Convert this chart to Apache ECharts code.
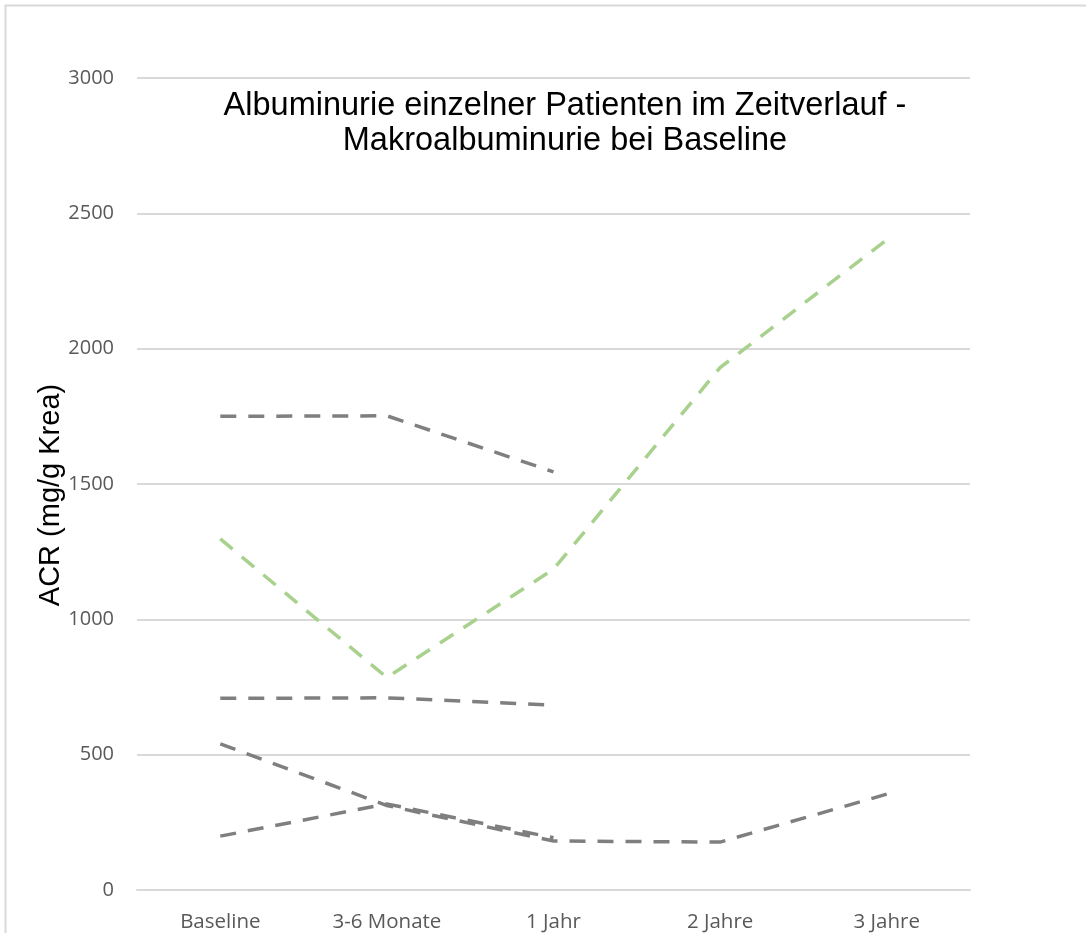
<!DOCTYPE html>
<html>
<head>
<meta charset="utf-8">
<script src="https://cdn.jsdelivr.net/npm/echarts@6/dist/echarts.min.js"></script>
<style>
  html, body { margin: 0; padding: 0; background: #fff; }
  #chart { width: 1086px; height: 933px; }
</style>
</head>
<body>
<div id="chart"></div>
<script>
// Time points and per-patient ACR values (mg/g Krea)
const categories = ['Baseline', '3-6 Monate', '1 Jahr', '2 Jahre', '3 Jahre'];
const patientA = [1750, 1752, 1545, null, null];
const patientB = [708, 710, 683, null, null];
const patientC = [540, 312, 181, 177, 354];
const patientD = [199, 318, 193, null, null];
const patientE = [1297, 785, 1185, 1930, 2402];
const yTicks = { min: 0, max: 3000, interval: 500 };

const GRAY = '#7f7f7f';
const GREEN = '#a9d18e';

function dashed(name, data, color, width) {
  return {
    name: name,
    type: 'line',
    data: data,
    symbol: 'none',
    connectNulls: false,
    silent: true,
    lineStyle: { color: color, width: width, type: [16, 12], cap: 'butt', join: 'miter' }
  };
}

const chart = echarts.init(document.getElementById('chart'), null, { renderer: 'canvas' });
chart.setOption({
  animation: false,
  backgroundColor: '#ffffff',
  graphic: [{
    type: 'rect',
    shape: { x: 5.5, y: 5.5, width: 1200, height: 1000 },
    style: { fill: 'none', stroke: '#d9d9d9', lineWidth: 2 },
    silent: true,
    z: -1
  }],
  title: {
    text: 'Albuminurie einzelner Patienten im Zeitverlauf -\nMakroalbuminurie bei Baseline',
    left: 560,
    top: 84,
    textAlign: 'center',
    textStyle: {
      fontFamily: 'Liberation Sans',
      fontSize: 32.5,
      fontWeight: 'normal',
      color: '#000000',
      lineHeight: 35,
      align: 'center'
    }
  },
  grid: { left: 137, right: 116, top: 78, bottom: 42, containLabel: false },
  xAxis: {
    type: 'category',
    data: categories,
    boundaryGap: true,
    axisLine: { show: true, lineStyle: { color: '#d9d9d9', width: 2 } },
    axisTick: { show: false },
    axisLabel: {
      fontFamily: 'Open Sans',
      fontSize: 20.5,
      color: '#595959',
      margin: 22
    }
  },
  yAxis: {
    type: 'value',
    min: yTicks.min,
    max: yTicks.max,
    interval: yTicks.interval,
    name: 'ACR (mg/g Krea)',
    nameLocation: 'middle',
    nameGap: 72,
    nameMoveOverlap: false,
    nameRotate: 90,
    nameTextStyle: {
      fontFamily: 'Liberation Sans',
      fontSize: 29,
      color: '#000000',
      padding: [0, 22, 0, 0]
    },
    axisLine: { show: false },
    axisTick: { show: false },
    splitLine: { lineStyle: { color: '#d9d9d9', width: 2 } },
    axisLabel: {
      fontFamily: 'Open Sans',
      fontSize: 20,
      color: '#595959',
      margin: 23,
      formatter: function (v) { return String(v); }
    }
  },
  series: [
    dashed('Patient A', patientA, GRAY, 3.5),
    dashed('Patient B', patientB, GRAY, 3.5),
    dashed('Patient C', patientC, GRAY, 3.5),
    dashed('Patient D', patientD, GRAY, 3.5),
    dashed('Patient E', patientE, GREEN, 3.5)
  ]
});
</script>
</body>
</html>
